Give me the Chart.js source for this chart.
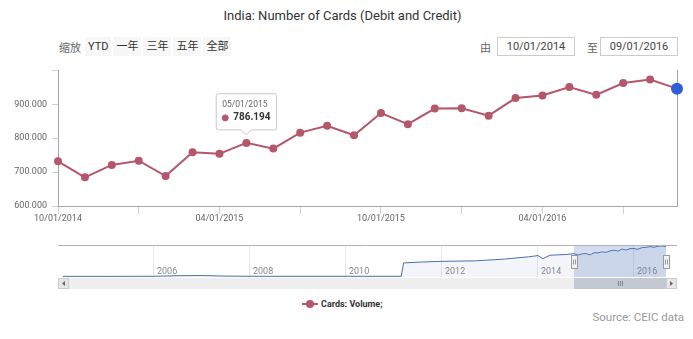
<!DOCTYPE html>
<html>
<head>
<meta charset="utf-8">
<script src="https://cdn.jsdelivr.net/npm/chart.js@4.4.1/dist/chart.umd.min.js"></script>
<style>
  body { margin: 0; width: 693px; height: 339px; background: #fff; position: relative; overflow: hidden;
         font-family: Roboto, "Noto Sans CJK SC", sans-serif; }
  .abs { position: absolute; }
  #title { top: 8px; left: 0; width: 685px; text-align: center; font-size: 13px; color: #333; }
  #zoomLabel { left: 59px; top: 39px; font-size: 11px; color: #666; }
  #buttons { left: 85px; top: 37px; display: flex; gap: 2px; }
  #buttons span { display: block; height: 19px; line-height: 19px; padding: 0 3px; background: #f7f7f7;
                  font-size: 11px; color: #333; }
  .dateLbl { top: 39px; font-size: 11px; color: #666; }
  .dateBox { top: 37px; width: 76px; height: 17px; line-height: 17px; border: 1px solid #ccc; text-align: center;
             font-size: 11px; color: #444; }
  #main { left: 0; top: 60px; }
  #nav { left: 0; top: 238px; }
  #legend { left: 302px; top: 299px; display: flex; align-items: center; font-size: 9px; font-weight: bold; color: #333; }
  #legend i { position: relative; display: block; width: 16px; height: 2px; background: #b5576b; margin-right: 3px; }
  #legend i::after { content: ""; position: absolute; left: 4px; top: -3px; width: 8px; height: 8px; border-radius: 50%; background: #b5576b; }
  #source { right: 9px; top: 310px; font-size: 11.5px; color: #999; }
</style>
</head>
<body>
<div id="title" class="abs">India: Number of Cards (Debit and Credit)</div>
<div id="zoomLabel" class="abs">缩放</div>
<div id="buttons" class="abs"><span>YTD</span><span>一年</span><span>三年</span><span>五年</span><span>全部</span></div>
<div class="abs dateLbl" style="left:480px">由</div>
<div class="abs dateBox" style="left:497px">10/01/2014</div>
<div class="abs dateLbl" style="left:587px">至</div>
<div class="abs dateBox" style="left:600px">09/01/2016</div>
<canvas id="main" class="abs" width="693" height="170"></canvas>
<canvas id="nav" class="abs" width="693" height="56"></canvas>
<div id="legend" class="abs"><i></i>Cards: Volume;</div>
<div id="source" class="abs">Source: CEIC data</div>
<script>
// monthly card volume (thousands)
const months = ['10/01/2014', '11/01/2014', '12/01/2014', '01/01/2015', '02/01/2015', '03/01/2015',
  '04/01/2015', '05/01/2015', '06/01/2015', '07/01/2015', '08/01/2015', '09/01/2015',
  '10/01/2015', '11/01/2015', '12/01/2015', '01/01/2016', '02/01/2016', '03/01/2016',
  '04/01/2016', '05/01/2016', '06/01/2016', '07/01/2016', '08/01/2016', '09/01/2016'];
const volume = [731.8, 684.7, 721.2, 733.7, 688.5, 758.7, 753.9, 786.194, 769.3, 816.4, 836.6, 808.7,
  874.1, 841.4, 887.5, 888.5, 866.4, 918.3, 926.0, 951.0, 927.9, 962.8, 973.1, 946.2];
const dateTicks = ['10/01/2014', '04/01/2015', '10/01/2015', '04/01/2016'];
const volumeTicks = [600, 700, 800, 900];

// longer history for the navigator strip (decimal years)
const historyYears = [2004.1, 2005.0, 2006.0, 2006.5, 2007.0, 2007.4, 2008.0, 2009.0, 2010.0, 2011.15,
  2011.2, 2011.6, 2012.0, 2012.7, 2013.3, 2013.8, 2014.0, 2014.1, 2014.25, 2014.6];
const historyValues = [20, 20, 22, 40, 45, 30, 22, 22, 22, 22,
  440, 470, 490, 505, 560, 630, 670, 575, 680, 705];
const navYearTicks = [2006, 2008, 2010, 2012, 2014, 2016];

const lineColor = '#b5576b';
const lastColor = '#2e5ed8';
const last = volume.length - 1;
const axisColor = '#a6a6a6';

const toYear = s => { const p = s.split('/'); return +p[2] + (+p[0] - 1) / 12; };

const radius = ctx => ctx.dataIndex === last ? 6 : 4;
const fill = ctx => ctx.dataIndex === last ? lastColor : lineColor;

const mainChart = new Chart(document.getElementById('main'), {
  type: 'line',
  data: {
    labels: months,
    datasets: [{
      label: 'Cards: Volume;',
      data: volume,
      borderColor: lineColor,
      borderWidth: 2,
      tension: 0,
      clip: false,
      pointRadius: radius,
      pointHoverRadius: radius,
      pointBackgroundColor: fill,
      pointBorderColor: fill,
      pointHoverBackgroundColor: fill,
      pointHoverBorderColor: fill,
      pointBorderWidth: 0,
      pointHoverBorderWidth: 0
    }]
  },
  options: {
    responsive: false,
    animation: false,
    events: [],
    layout: { padding: { top: 7, right: 16, left: 0, bottom: 0 } },
    plugins: {
      legend: { display: false },
      tooltip: {
        enabled: true,
        backgroundColor: 'rgba(255,255,255,0.96)',
        borderColor: '#c8c8c8',
        borderWidth: 1,
        cornerRadius: 2,
        padding: 6,
        caretSize: 5,
        caretPadding: 8,
        yAlign: 'bottom',
        xAlign: 'center',
        titleColor: '#666',
        titleFont: { family: 'Roboto', size: 8.5, weight: 'normal' },
        titleMarginBottom: 2,
        bodyColor: '#333',
        bodyFont: { family: 'Roboto', size: 10, weight: 'bold' },
        displayColors: true,
        usePointStyle: true,
        boxWidth: 6,
        boxHeight: 6,
        boxPadding: 3,
        callbacks: {
          title: items => items[0].label,
          label: item => item.parsed.y.toFixed(3),
          labelColor: () => ({ borderColor: lineColor, backgroundColor: lineColor }),
          labelPointStyle: () => ({ pointStyle: 'circle', rotation: 0 })
        }
      }
    },
    scales: {
      x: {
        offset: false,
        grid: {
          drawOnChartArea: false,
          tickLength: 8,
          color: ctx => ctx.index % 3 === 0 ? '#d0d0d0' : 'rgba(0,0,0,0)'
        },
        border: { color: axisColor },
        ticks: {
          autoSkip: false,
          maxRotation: 0,
          padding: -1,
          color: '#666',
          font: { family: 'Roboto', size: 9 },
          callback: (v, i) => dateTicks.includes(months[i]) ? months[i] : ''
        },
        afterFit: s => { s.height = 24; }
      },
      y: {
        min: 600,
        max: 1000,
        grid: { drawOnChartArea: false, tickLength: 6, color: '#d0d0d0' },
        border: { color: axisColor },
        ticks: {
          stepSize: 100,
          padding: 5,
          color: '#666',
          font: { family: 'Roboto', size: 9 },
          callback: v => volumeTicks.includes(v) ? v.toFixed(3) : ''
        },
        afterFit: s => { s.width = 58; }
      },
      y2: {
        position: 'right',
        grid: { drawOnChartArea: false, drawTicks: false },
        border: { color: axisColor },
        ticks: { display: false },
        afterFit: s => { s.width = 0; }
      }
    }
  }
});

// hover label pinned on May 2015
const tipIndex = months.indexOf('05/01/2015');
const tipPoint = mainChart.getDatasetMeta(0).data[tipIndex];
mainChart.tooltip.setActiveElements([{ datasetIndex: 0, index: tipIndex }], { x: tipPoint.x, y: tipPoint.y });
mainChart.update();

// navigator: full history + the zoomed window
const navPoints = historyYears.map((y, i) => ({ x: y, y: historyValues[i] }))
  .concat(months.map((m, i) => ({ x: toYear(m), y: volume[i] })));
const selStart = toYear(months[0]);
const selEnd = toYear(months[last]);

const navigatorChrome = {
  id: 'navigatorChrome',
  afterDatasetsDraw(chart) {
    const { ctx, chartArea: a, scales: { x } } = chart;
    const x0 = x.getPixelForValue(selStart);
    const x1 = x.getPixelForValue(selEnd);
    ctx.save();
    ctx.fillStyle = 'rgba(102,133,194,0.28)';
    ctx.fillRect(x0, a.top, x1 - x0, a.bottom - a.top);
    // outline
    ctx.strokeStyle = '#b2b1b6';
    ctx.lineWidth = 1;
    ctx.beginPath();
    ctx.moveTo(a.left, Math.round(a.top) + 0.5);
    ctx.lineTo(a.right + 11, Math.round(a.top) + 0.5);
    ctx.stroke();
    // handles
    [x0, x1].forEach(hx => {
      const l = Math.round(hx - 3) + 0.5, t = Math.round(a.top + 10) + 0.5;
      ctx.fillStyle = '#f2f2f2';
      ctx.strokeStyle = '#999';
      ctx.fillRect(l, t, 6, 13);
      ctx.strokeRect(l, t, 6, 13);
      ctx.beginPath();
      ctx.moveTo(l + 2, t + 4); ctx.lineTo(l + 2, t + 9);
      ctx.moveTo(l + 4, t + 4); ctx.lineTo(l + 4, t + 9);
      ctx.stroke();
    });
    // scrollbar
    const sy = Math.round(a.bottom) + 1, sh = 11;
    ctx.fillStyle = '#eeeeee';
    ctx.fillRect(a.left, sy, a.right + 11 - a.left, sh);
    ctx.fillStyle = '#c3c9d1';
    ctx.fillRect(x0, sy, x1 - x0, sh);
    ctx.strokeStyle = '#888';
    const gx = Math.round((x0 + x1) / 2);
    ctx.beginPath();
    for (let k = -2; k <= 2; k += 2) { ctx.moveTo(gx + k + 0.5, sy + 3); ctx.lineTo(gx + k + 0.5, sy + 8); }
    ctx.stroke();
    [[a.left, -1], [a.right, 1]].forEach(([bx, dir]) => {
      ctx.fillStyle = '#e6e6e6';
      ctx.strokeStyle = '#cccccc';
      ctx.fillRect(bx, sy, 11, sh);
      ctx.strokeRect(bx + 0.5, sy + 0.5, 10, sh - 1);
      ctx.fillStyle = '#666';
      ctx.beginPath();
      const cx = bx + 5.5, cy = sy + sh / 2;
      ctx.moveTo(cx + dir * 1.5, cy);
      ctx.lineTo(cx - dir * 1.5, cy - 2.5);
      ctx.lineTo(cx - dir * 1.5, cy + 2.5);
      ctx.fill();
    });
    ctx.restore();
  }
};

new Chart(document.getElementById('nav'), {
  type: 'line',
  data: {
    datasets: [{
      data: navPoints,
      borderColor: '#4a6fb0',
      borderWidth: 1,
      backgroundColor: 'rgba(102,133,194,0.08)',
      fill: 'origin',
      pointRadius: 0,
      tension: 0
    }]
  },
  options: {
    responsive: false,
    animation: false,
    events: [],
    layout: { padding: { top: 7, right: 27, left: 58, bottom: 0 } },
    plugins: { legend: { display: false }, tooltip: { enabled: false } },
    scales: {
      x: {
        type: 'linear',
        min: 2004,
        max: selEnd,
        afterBuildTicks: s => { s.ticks = navYearTicks.map(v => ({ value: v })); },
        grid: { drawTicks: false, color: '#e6e6e6' },
        border: { display: false },
        ticks: {
          // mirrored labels sit inside the strip, just above its bottom edge
          mirror: true,
          align: 'start',
          labelOffset: 3,
          padding: 0,
          maxRotation: 0,
          color: '#888',
          font: { family: 'Roboto', size: 9 },
          callback: v => String(v)
        },
        afterFit: s => { s.height = 17; }
      },
      y: { display: false, min: 0, max: 1000 }
    }
  },
  plugins: [navigatorChrome]
});
</script>
</body>
</html>
